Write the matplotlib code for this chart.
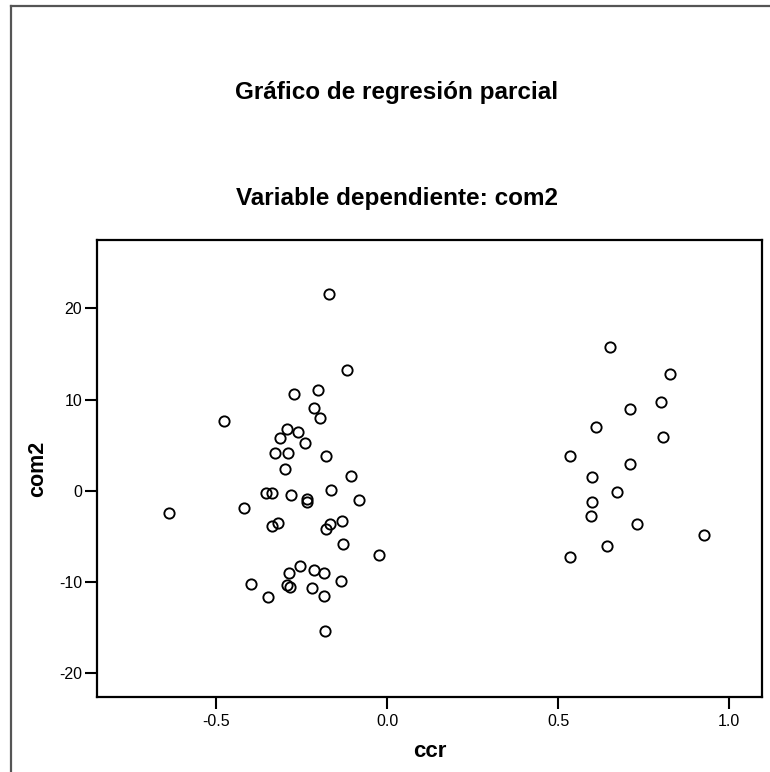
import matplotlib.pyplot as plt
from matplotlib.lines import Line2D

plt.rcParams['font.family'] = ['Liberation Sans', 'DejaVu Sans']
plt.rcParams['axes.unicode_minus'] = False

# partial regression residuals
ccr = [-0.171, -0.117, -0.272, -0.203, -0.214, -0.195, -0.476, -0.293, -0.262, -0.313,
       -0.240, -0.328, -0.289, -0.178, -0.300, -0.105, -0.354, -0.336, -0.281, -0.164,
       -0.233, -0.233, -0.082, -0.638, -0.418, -0.318, -0.338, -0.167, -0.180, -0.132,
       -0.128, -0.023, -0.255, -0.288, -0.213, -0.184, -0.135, -0.398, -0.292, -0.284,
       -0.219, -0.349, -0.184, -0.181,
       0.650, 0.828, 0.799, 0.710, 0.609, 0.807, 0.534, 0.709, 0.599, 0.671,
       0.600, 0.595, 0.731, 0.925, 0.643, 0.533]
com2 = [21.6, 13.2, 10.6, 11.1, 9.1, 8.0, 7.7, 6.8, 6.5, 5.8,
        5.2, 4.1, 4.1, 3.8, 2.4, 1.6, -0.25, -0.25, -0.5, 0.1,
        -0.9, -1.2, -1.0, -2.45, -1.9, -3.5, -3.8, -3.65, -4.2, -3.3,
        -5.8, -7.0, -8.2, -9.0, -8.7, -9.0, -9.9, -10.2, -10.3, -10.5,
        -10.7, -11.6, -11.5, -15.35,
        15.75, 12.8, 9.76, 9.0, 7.0, 5.95, 3.84, 2.9, 1.57, -0.1,
        -1.17, -2.74, -3.6, -4.8, -6.1, -7.3]

x_ticks = [-0.5, 0.0, 0.5, 1.0]
y_ticks = [-20, -10, 0, 10, 20]

W, H = 770, 772
fig = plt.figure(figsize=(W / 100, H / 100), dpi=100)

# outer frame (left and top edges visible)
fig.add_artist(Line2D([11 / W, 11 / W], [0, 1 - 6 / H], transform=fig.transFigure,
                      color='#555555', lw=1.6))
fig.add_artist(Line2D([11 / W, 1], [1 - 6 / H, 1 - 6 / H], transform=fig.transFigure,
                      color='#555555', lw=1.6))

ax = fig.add_axes([97 / W, 1 - 697 / H, 665 / W, 457 / H])
ax.plot(ccr, com2, linestyle='none', marker='o', ms=7.4, mfc='none',
        mec='black', mew=1.35)

ax.set_xlim(-0.848, 1.0955)
ax.set_ylim(-22.6, 27.5)
ax.set_xticks(x_ticks)
ax.set_xticklabels(['-0.5', '0.0', '0.5', '1.0'])
ax.set_yticks(y_ticks)

for s in ax.spines.values():
    s.set_linewidth(1.6)
ax.tick_params(axis='x', direction='out', length=8.6, width=1.5, labelsize=11.5, pad=4)
ax.tick_params(axis='y', direction='out', length=8.6, width=1.5, labelsize=11.5, pad=2)

ax.set_xlabel('ccr', fontsize=16, fontweight='bold', labelpad=8)
ax.set_ylabel('com2', fontsize=15.5, fontweight='bold', labelpad=8)

fig.text(397 / W, 1 - 92 / H, 'Gráfico de regresión parcial', ha='center', va='center',
         fontsize=17.5, fontweight='bold')
fig.text(397 / W, 1 - 198 / H, 'Variable dependiente: com2', ha='center', va='center',
         fontsize=17.5, fontweight='bold')

fig.savefig('out.png', dpi=100)
